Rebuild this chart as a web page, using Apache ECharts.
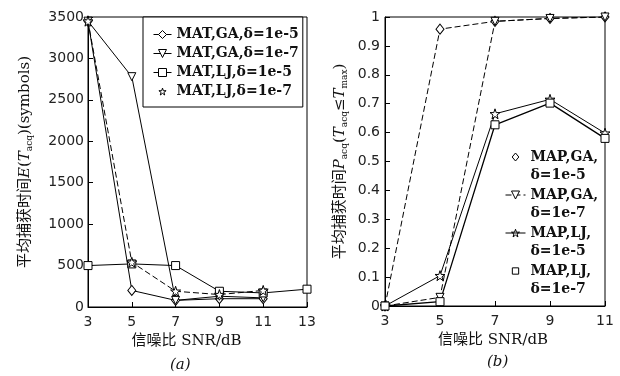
<!DOCTYPE html>
<html><head><meta charset="utf-8">
<script src="https://cdn.jsdelivr.net/npm/echarts@6/dist/echarts.min.js"></script>
<style>html,body{margin:0;padding:0;background:#fff}#c{width:620px;height:376px}</style>
</head><body><div id="c"></div>
<script>
// ---- data ----
const snrA = ['3','5','7','9','11','13'];
const snrB = ['3','5','7','9','11'];
const yTicksA = [0,500,1000,1500,2000,2500,3000,3500];
const yTicksB = [0,0.1,0.2,0.3,0.4,0.5,0.6,0.7,0.8,0.9,1];

const namesA = ['MAT,GA,δ=1e-5','MAT,GA,δ=1e-7','MAT,LJ,δ=1e-5','MAT,LJ,δ=1e-7'];
const matGA5 = [3450, 200, 80, 100, 100, null];
const matGA7 = [3450, 2780, 80, 130, 110, null];
const matLJ5 = [500, 520, 500, 190, 170, 215];
const matLJ7 = [3450, 540, 190, 150, 200, null];

const namesB = ['MAP,GA,\nδ=1e-5','MAP,GA,\nδ=1e-7','MAP,LJ,\nδ=1e-5','MAP,LJ,\nδ=1e-7'];
const mapGA5 = [0, 0.958, 0.985, 0.995, 1.0];
const mapGA7 = [0, 0.03, 0.985, 0.995, 1.0];
const mapLJ5 = [0, 0.105, 0.665, 0.715, 0.598];
const mapLJ7 = [0, 0.015, 0.627, 0.702, 0.58];

// ---- styling ----
const STAR = 'path://M50,0L61.8,35.1L98.1,34.5L69,56.7L79.4,91.5L50,70.5L20.6,91.5L31,56.7L1.9,34.5L38.2,35.1Z';
// legend-only icons: small symbol centred in a 2:1 box (corner moveTo points set the box)
const BOX = 'M0,0M240,0M0,120M240,120';
const STAR_PATH = 'M120,15L131.8,50.1L168.1,49.5L139,71.7L149.4,106.5L120,85.5L90.6,106.5L101,71.7L71.9,49.5L108.2,50.1Z';
const STAR_ICON = 'path://' + BOX + STAR_PATH;
const LINE_STAR_ICON = 'path://' + BOX + 'M0,60L240,60' + STAR_PATH;
const RECT_ICON = 'path://' + BOX + 'M82,22L158,22L158,98L82,98Z';
const DIAM_ICON = 'path://' + BOX + 'M120,12L160,60L120,108L80,60Z';
const hollow = {color:'#fff', borderColor:'#000', borderWidth:1};
const tickFont = {fontFamily:'DejaVu Sans', fontSize:14, color:'#222'};
const nameFont = 'DejaVu Serif, Noto Sans CJK SC';

function mk(name, data, xi, symbol, opts) {
  return Object.assign({
    name, type:'line', xAxisIndex:xi, yAxisIndex:xi, data,
    symbol, symbolSize:8, showAllSymbol:true, connectNulls:false,
    itemStyle:hollow,
    lineStyle:{color:'#000', width:1, type:'solid'},
    emphasis:{disabled:true}
  }, opts||{});
}

function xAx(cats, gi, nameText, pad) {
  return {
    type:'category', gridIndex:gi, data:cats, boundaryGap:false,
    axisLine:{lineStyle:{color:'#000'}},
    axisTick:{inside:true, length:5, lineStyle:{color:'#000'}},
    axisLabel:Object.assign({margin:8}, tickFont),
    name:nameText, nameLocation:'middle', nameGap:27,
    nameTextStyle:{fontFamily:nameFont, fontSize:15, color:'#111', padding:pad}
  };
}

const sub = {fontFamily:'DejaVu Serif', fontSize:9, color:'#111', padding:[9,0,0,0]};
const it = {fontFamily:'DejaVu Serif', fontSize:15, fontStyle:'italic', color:'#111'};
const nm = {fontFamily:nameFont, fontSize:15, color:'#111'};
const iconStyle = {color:'#fff', borderColor:'#000', borderWidth:1};

const option = {
  animation:false,
  backgroundColor:'#fff',
  grid:[
    {left:88, top:17, width:219, height:290, show:true, borderColor:'#000', borderWidth:1, backgroundColor:'transparent'},
    {left:385, top:17, width:220, height:289, show:true, borderColor:'#000', borderWidth:1, backgroundColor:'transparent'}
  ],
  xAxis:[ xAx(snrA, 0, '信噪比 SNR/dB', [0,22,0,0]), xAx(snrB, 1, '信噪比 SNR/dB', [0,4,0,0]) ],
  yAxis:[
    {type:'value', gridIndex:0, min:0, max:3500, interval:500,
     splitLine:{show:false},
     axisLine:{show:true, lineStyle:{color:'#000'}},
     axisTick:{show:true, inside:true, length:5, lineStyle:{color:'#000'}},
     axisLabel:Object.assign({margin:4, formatter:v=>String(v)}, tickFont),
     name:'{n|平均捕获时间}{it|E}{n|(}{it|T}{s|acq}{n|)(symbols)}', nameLocation:'middle', nameGap:54, nameRotate:90,
     nameTextStyle:{rich:{n:nm, it:it, s:sub}}
    },
    {type:'value', gridIndex:1, min:0, max:1, interval:0.1,
     splitLine:{show:false},
     axisLine:{show:true, lineStyle:{color:'#000'}},
     axisTick:{show:true, inside:true, length:5, lineStyle:{color:'#000'}},
     axisLabel:Object.assign({margin:5, formatter:v=>String(Math.round(v*10)/10)}, tickFont),
     name:'{n|平均捕获时间}{it|P}{s|acq}{n|(}{it|T}{s|acq}{n|≤}{it|T}{s|max}{n|)}', nameLocation:'middle', nameGap:36, nameRotate:90,
     nameTextStyle:{rich:{n:nm, it:it, s:sub}}
    }
  ],
  legend:[
    {orient:'vertical', left:143, top:17, padding:[10,4,8,10], borderColor:'#000', borderWidth:1,
     backgroundColor:'#fff', itemWidth:18, itemHeight:10, itemGap:4,
     itemStyle:{borderWidth:1}, lineStyle:{width:1},
     textStyle:{fontFamily:'DejaVu Serif', fontWeight:'bold', fontSize:14, lineHeight:15, color:'#111'},
     data:[{name:namesA[0]},{name:namesA[1]},{name:namesA[2]},{name:namesA[3], icon:STAR_ICON, itemStyle:iconStyle}]},
    {orient:'vertical', left:505, top:130, padding:0, itemWidth:20, itemHeight:10, itemGap:-16,
     itemStyle:{borderWidth:1}, lineStyle:{width:1},
     formatter:n => '\n' + n,
     textStyle:{fontFamily:'DejaVu Serif', fontWeight:'bold', fontSize:14, lineHeight:18, color:'#111'},
     data:[{name:namesB[0], icon:DIAM_ICON, itemStyle:iconStyle},{name:namesB[1]},
           {name:namesB[2], icon:LINE_STAR_ICON, itemStyle:iconStyle},{name:namesB[3], icon:RECT_ICON, itemStyle:iconStyle}]}
  ],
  graphic:[
    {type:'text', left:170, top:358, style:{text:'(a)', font:'italic 15px "DejaVu Serif"', fill:'#111'}},
    {type:'text', left:487, top:355, style:{text:'(b)', font:'italic 15px "DejaVu Serif"', fill:'#111'}}
  ],
  series:[
    mk(namesA[0], matGA5, 0, 'diamond', {symbolSize:[8,10]}),
    mk(namesA[1], matGA7, 0, 'triangle', {symbolRotate:180}),
    mk(namesA[2], matLJ5, 0, 'rect', {symbolSize:8}),
    mk(namesA[3], matLJ7, 0, STAR, {symbolSize:10, lineStyle:{color:'#000', width:1, type:[6,3]}}),
    mk(namesB[0], mapGA5, 1, 'diamond', {symbolSize:[8,10], lineStyle:{color:'#000', width:1, type:[6,3]}}),
    mk(namesB[1], mapGA7, 1, 'triangle', {symbolRotate:180, lineStyle:{color:'#000', width:1, type:[6,3]}}),
    mk(namesB[2], mapLJ5, 1, STAR, {symbolSize:10}),
    mk(namesB[3], mapLJ7, 1, 'rect', {symbolSize:8, lineStyle:{color:'#000', width:1.3, type:'solid'}})
  ]
};
const chart = echarts.init(document.getElementById('c'), null, {renderer:'canvas'});
chart.setOption(option);
</script></body></html>
